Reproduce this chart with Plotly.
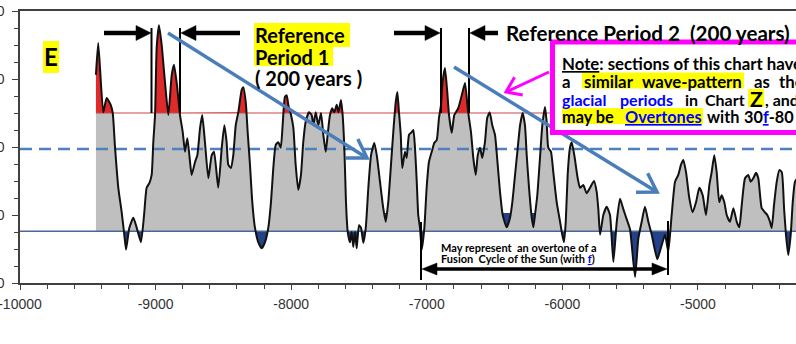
import numpy as np
import plotly.graph_objects as go

# ---------------- data ----------------
years = [
    -9440, -9423, -9386, -9361, -9331, -9316, -9299, -9275, -9250, -9233,
    -9218, -9194, -9164, -9139, -9108, -9085, -9066, -9046, -9029, -9017,
    -9004, -8992, -8975, -8955, -8931, -8906, -8881, -8864, -8840, -8820,
    -8800, -8783, -8766, -8751, -8734, -8709, -8692, -8672, -8656, -8636,
    -8611, -8586, -8569, -8538, -8512, -8493, -8476, -8464, -8444, -8427,
    -8409, -8390, -8365, -8353, -8335, -8321, -8304, -8287, -8267, -8243,
    -8217, -8193, -8169, -8149, -8132, -8114, -8095, -8077, -8063, -8046,
    -8033, -8021, -8001, -7984, -7967, -7948, -7928, -7911, -7893, -7869,
    -7849, -7837, -7819, -7800, -7780, -7763, -7745, -7731, -7714, -7697,
    -7682, -7664, -7651, -7633, -7622, -7608, -7596, -7583, -7566, -7554,
    -7542, -7529, -7517, -7500, -7485, -7468, -7450, -7431, -7411, -7387,
    -7369, -7345, -7321, -7303, -7284, -7264, -7247, -7229, -7217, -7205,
    -7192, -7181, -7161, -7148, -7131, -7111, -7099, -7087, -7074, -7063,
    -7050, -7037, -7018, -7001, -6984, -6959, -6945, -6927, -6910, -6895,
    -6883, -6866, -6849, -6836, -6816, -6797, -6768, -6742, -6718, -6698,
    -6689, -6674, -6657, -6639, -6624, -6607, -6591, -6571, -6554, -6536,
    -6517, -6497, -6477, -6460, -6440, -6411, -6386, -6369, -6349, -6329,
    -6312, -6293, -6276, -6263, -6246, -6226, -6214, -6202, -6185, -6165,
    -6148, -6128, -6116, -6104, -6084, -6067, -6042, -6017, -6001, -5988,
    -5975, -5961, -5944, -5931, -5912, -5887, -5870, -5846, -5821, -5796,
    -5767, -5747, -5735, -5722, -5698, -5673, -5649, -5624, -5599, -5575,
    -5551, -5526, -5501, -5464, -5440, -5415, -5391, -5366, -5341, -5300,
    -5267, -5243, -5219, -5194, -5169, -5145, -5125, -5108, -5088, -5064,
    -5039, -5014, -4990, -4965, -4941, -4916, -4899, -4880, -4862, -4843,
    -4825, -4806, -4788, -4764, -4739, -4714, -4695, -4677, -4653, -4629,
    -4611, -4592, -4572, -4555, -4542, -4530, -4506, -4489, -4469, -4456,
    -4439, -4419, -4400, -4382, -4365, -4351, -4334, -4316, -4301, -4284, -4248,
]
values = [
    3.06, 3.53, 2.51, 2.72, 2.62, 2.50, 1.99, 1.40, 1.04, 0.75,
    0.49, 0.81, 0.96, 0.81, 0.60, 1.00, 1.40, 1.47, 1.59, 2.07,
    2.47, 3.46, 3.79, 3.50, 2.96, 2.47, 3.06, 3.21, 2.87, 2.47,
    2.22, 1.93, 2.13, 1.88, 1.59, 1.78, 1.88, 2.28, 2.47, 2.07,
    1.54, 1.88, 1.93, 1.40, 1.99, 2.32, 2.07, 1.74, 1.69, 1.88,
    2.32, 2.51, 2.84, 2.88, 2.66, 2.22, 1.74, 1.19, 0.81, 0.60,
    0.51, 0.60, 0.81, 1.19, 1.69, 2.03, 2.07, 1.99, 2.32, 2.74,
    2.76, 2.62, 2.47, 2.28, 1.74, 1.37, 1.59, 2.07, 2.37, 2.51,
    2.47, 2.32, 2.51, 2.32, 2.50, 2.18, 1.93, 2.18, 2.47, 2.57,
    2.51, 2.62, 2.51, 2.69, 2.51, 1.99, 1.19, 0.75, 0.60, 0.75,
    0.53, 0.75, 0.51, 0.85, 0.81, 0.59, 0.81, 1.40, 1.88, 2.06,
    1.88, 1.49, 1.10, 0.90, 1.19, 1.74, 2.22, 2.66, 2.81, 2.51,
    2.18, 1.69, 1.93, 1.84, 2.18, 2.22, 2.25, 1.99, 1.49, 1.00,
    0.81, 0.49, 0.81, 1.40, 1.78, 1.96, 2.06, 2.10, 2.43, 2.62,
    2.96, 3.16, 2.81, 2.47, 2.21, 2.47, 2.57, 2.76, 2.94, 2.57,
    2.43, 2.22, 1.84, 1.59, 1.88, 1.99, 1.84, 2.07, 2.43, 2.51,
    2.32, 2.18, 1.74, 1.34, 1.00, 0.82, 0.96, 1.19, 1.59, 1.99,
    2.32, 2.50, 2.32, 1.88, 1.40, 0.96, 0.82, 1.00, 1.29, 1.84,
    2.32, 2.59, 2.37, 1.99, 1.93, 1.63, 1.19, 0.90, 0.71, 0.60,
    0.90, 1.59, 1.99, 2.07, 1.88, 1.54, 1.40, 1.44, 1.32, 1.40,
    1.50, 1.34, 1.09, 0.71, 1.00, 1.12, 1.00, 0.31, 0.90, 1.24,
    1.09, 0.94, 0.79, 0.09, 0.65, 0.90, 1.12, 0.90, 0.71, 0.35,
    0.56, 0.71, 0.46, 1.00, 1.49, 1.59, 1.74, 1.81, 1.63, 1.25,
    1.04, 1.19, 1.40, 1.29, 1.00, 1.44, 1.63, 1.88, 1.63, 1.19,
    1.29, 1.19, 1.00, 0.90, 1.10, 0.90, 0.82, 1.15, 1.54, 1.59,
    1.49, 1.54, 1.62, 1.54, 1.29, 1.10, 1.04, 1.00, 0.90, 0.81,
    1.15, 1.49, 1.66, 1.63, 1.10, 0.71, 0.41, 0.71, 1.19, 1.49, 1.59,
]
assert len(years) == len(values), (len(years), len(values))

RED_LEVEL = 2.50     # upper threshold (red fill above)
BLUE_LEVEL = 0.76    # lower threshold (blue fill below)
DASH_LEVEL = 1.97    # dashed mean line
TIP_LEVEL = 1.03     # shallow troughs marked in blue
TIP_RANGES = [(-7330, -7275), (-6465, -6365), (-6250, -6180)]

X_RANGE = [-10000, -4277]
Y_RANGE = [0, 4]
x_tickvals = [-10000, -9000, -8000, -7000, -6000, -5000]
x_ticktext = ["-10000", "-9000", "-8000", "-7000", "-6000", "-5000"]
y_tickvals = [0, 1, 2, 3, 4]
y_ticktext = ["-50", "-40", "-30", "-20", "-10"]

# ---------------- geometry of the page ----------------
W, H = 796, 344
ML, MR, MT, MB = 20, 0, 11, 61
PW, PH = W - ML - MR, H - MT - MB


def P(xp, yp):
    """pixel position on the page -> paper coordinates (for annotations only)"""
    return (xp - ML) / PW, (H - MB - yp) / PH


# ---------------- fills ----------------
def densify(xs, ys, levels):
    ox, oy = [xs[0]], [ys[0]]
    for i in range(1, len(xs)):
        x0, y0, x1, y1 = xs[i - 1], ys[i - 1], xs[i], ys[i]
        cuts = []
        for L in levels:
            if (y0 - L) * (y1 - L) < 0:
                t = (L - y0) / (y1 - y0)
                cuts.append((t, x0 + t * (x1 - x0), L))
        for _, cx, cy in sorted(cuts):
            ox.append(cx)
            oy.append(cy)
        ox.append(x1)
        oy.append(y1)
    return np.array(ox), np.array(oy)


X, Y = densify(years, values, [RED_LEVEL, BLUE_LEVEL, TIP_LEVEL])
grey_top = np.clip(Y, BLUE_LEVEL, RED_LEVEL)
red_top = np.maximum(Y, RED_LEVEL)
blue_bot = np.minimum(Y, BLUE_LEVEL)
in_tip = np.zeros(len(X), bool)
for a, b in TIP_RANGES:
    in_tip |= (X >= a) & (X <= b)
tip_bot = np.where(in_tip, np.minimum(Y, TIP_LEVEL), TIP_LEVEL)

fig = go.Figure()


def band(base, top, color):
    fig.add_trace(go.Scatter(x=X, y=np.full(len(X), base), mode="lines",
                             line=dict(width=0), hoverinfo="skip", showlegend=False))
    fig.add_trace(go.Scatter(x=X, y=top, mode="lines", fill="tonexty",
                             fillcolor=color, line=dict(width=0),
                             hoverinfo="skip", showlegend=False))


band(BLUE_LEVEL, grey_top, "#BFBFBF")
band(RED_LEVEL, red_top, "#DE2A2A")
band(BLUE_LEVEL, blue_bot, "#24428A")
band(TIP_LEVEL, tip_bot, "#24428A")

# threshold lines
fig.add_trace(go.Scatter(x=[years[0], X_RANGE[1]], y=[RED_LEVEL] * 2, mode="lines",
                         line=dict(color="#C8484A", width=1.2), hoverinfo="skip", showlegend=False))
fig.add_trace(go.Scatter(x=X_RANGE, y=[BLUE_LEVEL] * 2, mode="lines",
                         line=dict(color="#4A6796", width=1.5), hoverinfo="skip", showlegend=False))
fig.add_trace(go.Scatter(x=X_RANGE, y=[DASH_LEVEL] * 2, mode="lines",
                         line=dict(color="#4F81BD", width=2.5, dash="12px,7px"),
                         hoverinfo="skip", showlegend=False))
# the curve
fig.add_trace(go.Scatter(x=years, y=values, mode="lines",
                         line=dict(color="#111111", width=2, shape="spline", smoothing=0.5),
                         hoverinfo="skip", showlegend=False))

# ---------------- shapes (arrows, markers, note box, highlights) ----------------
shapes = []
YEL = "#FFFF00"


def seg(x0, y0, x1, y1, color, width):
    a, b = P(x0, y0), P(x1, y1)
    shapes.append(dict(type="line", xref="paper", yref="paper", x0=a[0], y0=a[1],
                       x1=b[0], y1=b[1], line=dict(color=color, width=width)))


def rect(x0, y0, x1, y1, fill, line_color=None, line_width=0):
    a, b = P(x0, y1), P(x1, y0)
    shapes.append(dict(type="rect", xref="paper", yref="paper", x0=a[0], y0=a[1],
                       x1=b[0], y1=b[1], fillcolor=fill,
                       line=dict(color=line_color or fill, width=line_width)))


def path_of(pts, close=False):
    s = "M " + " L ".join(f"{P(*p)[0]:.5f},{P(*p)[1]:.5f}" for p in pts)
    return s + (" Z" if close else "")


def open_arrow(x0, y0, x1, y1, color, width, head=20, ang=32):
    seg(x0, y0, x1, y1, color, width)
    d = np.array([x0 - x1, y0 - y1], float)
    d /= np.linalg.norm(d)
    arms = []
    for s in (1, -1):
        a = np.radians(ang * s)
        r = np.array([d[0] * np.cos(a) - d[1] * np.sin(a), d[0] * np.sin(a) + d[1] * np.cos(a)])
        arms.append((x1 + head * r[0], y1 + head * r[1]))
    shapes.append(dict(type="path", xref="paper", yref="paper",
                       path=path_of([arms[0], (x1, y1), arms[1]]),
                       line=dict(color=color, width=width)))


def head_tri(x0, y0, x1, y1, color, hl, hh):
    u = np.array([x1 - x0, y1 - y0], float)
    u /= np.linalg.norm(u)
    bx, by = x1 - u[0] * hl, y1 - u[1] * hl
    n = np.array([-u[1], u[0]])
    pts = [(x1, y1), (bx + n[0] * hh, by + n[1] * hh), (bx - n[0] * hh, by - n[1] * hh)]
    shapes.append(dict(type="path", xref="paper", yref="paper", path=path_of(pts, True),
                       fillcolor=color, line=dict(color=color, width=0.5)))
    return bx, by


def solid_arrow(x0, y0, x1, y1, color, width, hl=15, hh=7.5):
    bx, by = head_tri(x0, y0, x1, y1, color, hl, hh)
    seg(x0, y0, bx, by, color, width)


def double_arrow(x0, y0, x1, y1, color, width, hl=15, hh=6):
    b1 = head_tri(x0, y0, x1, y1, color, hl, hh)
    b0 = head_tri(x1, y1, x0, y0, color, hl, hh)
    seg(b0[0], b0[1], b1[0], b1[1], color, width)


# reference period markers
for xv in (151.5, 180, 441, 469):
    seg(xv, 28, xv, 113, "black", 2)
solid_arrow(104, 33, 151, 33, "black", 4.5)
solid_arrow(240, 33, 181, 33, "black", 4.5)
solid_arrow(394, 33, 440, 33, "black", 4.5)
solid_arrow(498, 33, 470, 33, "black", 4.5)

# blue trend arrows
open_arrow(168, 33, 367, 158, "#4A7EBB", 3.5, head=21)
open_arrow(454, 67, 657, 192, "#4A7EBB", 3.5, head=21)

# note box (covers the chart underneath)
rect(552.5, 42, 840, 132.5, "white", "#FF00FF", 5)
open_arrow(549, 72, 506, 92, "#FF00FF", 3, head=17, ang=35)

# yellow highlights
rect(43, 41, 59, 73, YEL)           # E
rect(254, 23, 350, 47, YEL)         # Reference
rect(254, 47, 333, 66, YEL)         # Period 1
rect(582, 72.5, 744, 88.5, YEL)     # similar wave-pattern
rect(748, 89, 764, 107, YEL)        # Z
rect(562, 108, 703, 124, YEL)       # may be Overtones

# bottom span
seg(421, 222, 421, 280, "black", 2)
seg(668, 221, 668, 275, "black", 2)
double_arrow(422, 269, 667, 269, "black", 3.5, hl=15, hh=6)

# ---------------- texts ----------------
anns = []
FONT = "Lato, 'Open Sans', sans-serif"
NB = "\u00a0"
BLUE_T = "#0000FF"


def txt(s, x, y, size, color="black", anchor="left"):
    px_, py_ = P(x, y)
    anns.append(dict(text=s, x=px_, y=py_, xref="paper", yref="paper", xanchor=anchor,
                     yanchor="middle", showarrow=False, borderpad=0,
                     font=dict(family=FONT, size=size, color=color)))


txt("<b>E</b>", 51, 57, 24, anchor="center")
txt("<b>Reference</b>", 254, 35, 20)
txt("<b>Period 1</b>", 254, 57, 20)
txt("<b>( 200 years )</b>", 254, 78, 20)
txt(f"<b>Reference Period 2 {NB}(200 years)</b>", 505, 33, 20.6)

# note box (justified text: words placed one by one)
txt("<b><u>Note</u>: sections of this chart have</b>", 561, 63, 16.8)

for s, x, a in [("<b>a</b>", 561, "left"), ("<b>similar</b>", 583, "left"),
                ("<b>wave-pattern</b>", 743, "right"), ("<b>as</b>", 753, "left"),
                ("<b>the</b>", 778, "left")]:
    txt(s, x, 81, 16.8, anchor=a)

for s, x, c, a in [("<b>glacial</b>", 561, BLUE_T, "left"),
                   ("<b>periods</b>", 674, BLUE_T, "right"),
                   ("<b>in</b>", 684, "black", "left"),
                   ("<b>Chart</b>", 746, "black", "right"),
                   ("<b>, and</b>", 764, "black", "left")]:
    txt(s, x, 99.5, 16, color=c, anchor=a)
txt("<b>Z</b>", 756, 98, 21, anchor="center")

for s, x, a in [("<b>may be</b>", 561, "left"),
                (f"<b><span style='color:{BLUE_T}'><u>Overtones</u></span></b>", 703, "right"),
                ("<b>with</b>", 706, "left"),
                (f"<b>30<span style='color:{BLUE_T}'><u>f</u></span>-80</b>", 743, "left")]:
    txt(s, x, 116.5, 16.3, anchor=a)

# bottom text
txt(f"<b>May represent {NB}an overtone of a</b>", 440, 247, 11)
txt(f"<b>Fusion {NB}Cycle of the Sun (with <span style='color:{BLUE_T}'><u>f</u></span>)</b>",
    440, 258, 11)

# ---------------- layout ----------------
AX = "#404040"
fig.update_layout(
    width=W, height=H, margin=dict(l=ML, r=MR, t=MT, b=MB, autoexpand=False),
    plot_bgcolor="white", paper_bgcolor="white", showlegend=False,
    shapes=shapes, annotations=anns,
)
fig.update_xaxes(
    range=X_RANGE, tickvals=x_tickvals, ticktext=x_ticktext, showgrid=False, zeroline=False,
    showline=True, linecolor=AX, linewidth=1.5, mirror=True,
    ticks="outside", ticklen=5, tickwidth=1.3, tickcolor=AX,
    minor=dict(tickmode="linear", tick0=-10000, dtick=200, ticks="outside", ticklen=4,
               tickcolor=AX, tickwidth=1.2, showgrid=False),
    tickfont=dict(family="'Liberation Sans', Arial, sans-serif", size=14, color="#333333"),
    ticklabelstandoff=2, ticklabeloverflow="allow", automargin=False,
)
fig.update_yaxes(
    range=Y_RANGE, tickvals=y_tickvals, ticktext=y_ticktext, showgrid=False, zeroline=False,
    showline=True, linecolor=AX, linewidth=1.5,
    ticks="outside", ticklen=6, tickwidth=1.3, tickcolor=AX,
    minor=dict(tickmode="linear", tick0=0, dtick=0.25, ticks="outside", ticklen=4,
               tickcolor=AX, tickwidth=1.2, showgrid=False),
    tickfont=dict(family="'Liberation Sans', Arial, sans-serif", size=14, color="#333333"),
    ticklabelstandoff=5, ticklabeloverflow="allow", automargin=False,
)

fig.write_html("out.html")
